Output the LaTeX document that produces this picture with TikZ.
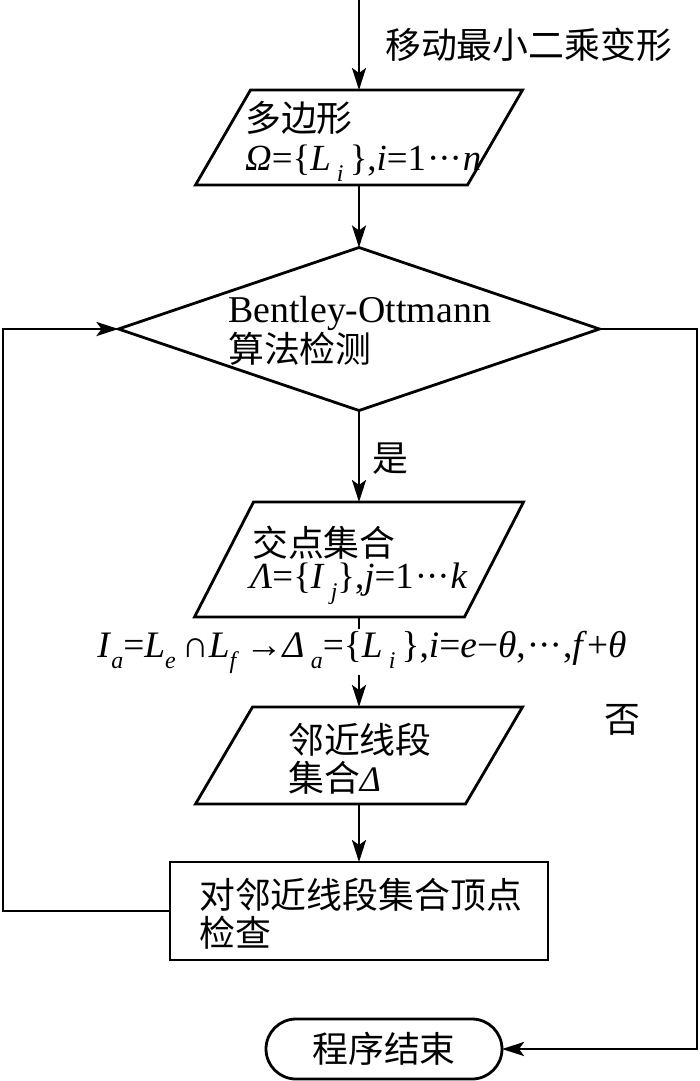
\documentclass[tikz,border=0pt]{standalone}
\usepackage{fontspec}
\setmainfont{Liberation Serif}
\newfontfamily\cjk{Noto Sans CJK SC}
\usetikzlibrary{arrows.meta}
\newcommand\mi[1]{\textit{#1}}
\newcommand\sbx[1]{\raisebox{-0.3em}{\fontsize{24}{24}\selectfont\textit{#1}}}
\newcommand\dotsx{\kern1bp·\kern-1bp·\kern-1bp·\kern1bp}
\begin{document}
\begin{tikzpicture}[x=1bp,y=-1bp,
  ln/.style={line width=2.8bp},
  arr/.style={ln,-{Stealth[length=22bp,width=14bp,inset=5bp]}},
  shp/.style={inner sep=0pt,outer sep=0pt},
  txt/.style={inner sep=0pt,anchor=base west,font=\fontsize{36}{40}\selectfont},
  ltx/.style={inner sep=0pt,anchor=base west,font=\fontsize{37}{40}\selectfont},
  lbl/.style={inner sep=0pt,anchor=center,font=\fontsize{36}{40}\selectfont}]
\useasboundingbox (0,0) rectangle (700,1081);
% shapes
\node[shp,minimum width=327bp,minimum height=95bp] (p1) at (359,137.5) {};
\draw[ln] ([xshift=55bp]p1.north west) -- (p1.north east) -- ([xshift=-55bp]p1.south east) -- (p1.south west) -- cycle;
\node[shp,minimum width=481bp,minimum height=163bp] (dia) at (359,329) {};
\draw[ln] (dia.north) -- (dia.east) -- (dia.south) -- (dia.west) -- cycle;
\node[shp,minimum width=329bp,minimum height=115bp] (p2) at (359,559.5) {};
\draw[ln] ([xshift=59bp]p2.north west) -- (p2.north east) -- ([xshift=-59bp]p2.south east) -- (p2.south west) -- cycle;
\node[shp,minimum width=327bp,minimum height=97bp] (p3) at (359,755.5) {};
\draw[ln] ([xshift=57bp]p3.north west) -- (p3.north east) -- ([xshift=-57bp]p3.south east) -- (p3.south west) -- cycle;
\node[shp,draw,ln,minimum width=378bp,minimum height=98bp] (rect) at (359,911) {};
\node[shp,draw,ln,rounded corners=30bp,minimum width=236bp,minimum height=60bp] (term) at (384,1049) {};
% texts
\node[txt] (t0) at (385,58) {\cjk 移动最小二乘变形};
\node[txt] (t1a) at (245,131) {\cjk 多边形};
\node[ltx] (t1b) at (245,170) {\mi{Ω}=\{\mi{L}\,\sbx{i}\,\},\mi{i}=1\dotsx\mi{n}};
\node[txt,font=\fontsize{38}{40}\selectfont] (t2a) at (228,322) {Bentley-Ottmann};
\node[txt] (t2b) at (228,362) {\cjk 算法检测};
\node[txt] (yes) at (372,471) {\cjk 是};
\node[txt] (t3a) at (252,556) {\cjk 交点集合};
\node[ltx] (t3b) at (250,588) {\mi{Λ}=\{\mi{I}\,\sbx{j}\},\mi{j}=1\dotsx\mi{k}};
\node[shp,fill=white,inner sep=2bp,font=\fontsize{37.5}{40}\selectfont] (fm) at (362,652) {\mi{I}\sbx{a}=\mi{L}\sbx{e}\,∩\mi{L}\sbx{f}\,→\mi{Δ}\,\sbx{a}=\{\mi{L}\,\sbx{i}\,\},\mi{i}=\mi{e}−\mi{θ},\dotsx,\mi{f}+\mi{θ}};
\node[txt] (t4a) at (288,753) {\cjk 邻近线段};
\node[txt] (t4b) at (288,791) {{\cjk 集合}\mi{Δ}};
\node[txt] (t5a) at (199,908) {\cjk 对邻近线段集合顶点};
\node[txt] (t5b) at (199,946) {\cjk 检查};
\node[lbl] (t6) at (term.center) {\cjk 程序结束};
\node[lbl] (no) at (622,720) {\cjk 否};
% connectors
\coordinate (start) at (359,0);
\coordinate (lx) at (3,0);
\coordinate (rx) at (697,0);
\draw[arr] (start) -- (p1.north);
\draw[arr] (p1.south) -- (dia.north);
\draw[arr] (dia.south) -- (p2.north);
\draw[ln] (p2.south) -- (p2.south |- fm.north);
\draw[arr] (p3.north |- fm.south) -- (p3.north);
\draw[arr] (p3.south) -- (rect.north);
\draw[arr] (rect.west) -- (rect.west -| lx) -- (dia.west -| lx) -- (dia.west);
\draw[arr] (dia.east) -- (dia.east -| rx) -- (term.east -| rx) -- (term.east);
\end{tikzpicture}
\end{document}
